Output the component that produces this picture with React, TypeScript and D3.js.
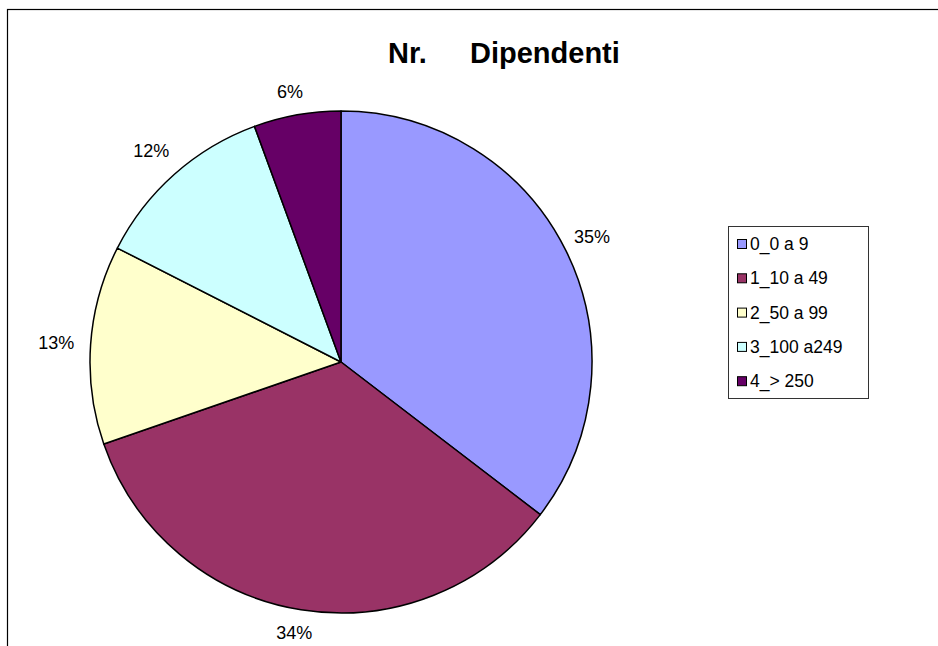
import React from "react";
import * as d3 from "d3";

const categories = ["0_0 a 9", "1_10 a 49", "2_50 a 99", "3_100 a249", "4_> 250"];
const values = [35.4, 34.3, 12.8, 11.9, 5.6];
const colors = ["#9999FF", "#993366", "#FFFFCC", "#CCFFFF", "#660066"];
const titleParts = ["Nr.", "Dipendenti"];

const W = 938;
const H = 646;
const cx = 341;
const cy = 362;
const R = 251;

export default function App() {
  const total = d3.sum(values);
  const pie = d3.pie<number>().sort(null).value((d) => d).startAngle(0).endAngle(2 * Math.PI);
  const arcs = pie(values);
  const arc = d3.arc<d3.PieArcDatum<number>>().innerRadius(0).outerRadius(R);
  const font = "'Liberation Sans', Arial, sans-serif";
  const labelSize = 18;

  return (
    <div style={{ position: "fixed", left: 0, top: 0, width: W, height: H, background: "#fff" }}>
      <svg width={W} height={H} style={{ display: "block" }}>
        <rect x={7.5} y={9.5} width={W + 10} height={H + 10} fill="#fff" stroke="#000" strokeWidth={1.2} />
        <text x={388} y={63} fontFamily={font} fontWeight="bold" fontSize={29} fill="#000">{titleParts[0]}</text>
        <text x={470} y={63} fontFamily={font} fontWeight="bold" fontSize={29} fill="#000">{titleParts[1]}</text>
        <g transform={`translate(${cx},${cy})`}>
          {arcs.map((a, i) => (
            <path key={i} d={arc(a) || ""} fill={colors[i]} stroke="#000" strokeWidth={1.5} strokeLinejoin="round" />
          ))}
          {arcs.map((a, i) => {
            const label = `${Math.round((values[i] / total) * 100)}%`;
            const mid = (a.startAngle + a.endAngle) / 2;
            const s = Math.sin(mid);
            const c = Math.cos(mid);
            const w = label.length * labelSize * 0.63;
            const h = 14;
            const d = R + 14 + Math.abs(s) * w / 2 + Math.abs(c) * h / 2;
            return (
              <text key={i} x={d * s - 3} y={-d * c} textAnchor="middle" dominantBaseline="central"
                fontFamily={font} fontSize={labelSize} fill="#000">
                {label}
              </text>
            );
          })}
        </g>
        <g>
          <rect x={728.5} y={226.5} width={140} height={172} fill="#fff" stroke="#333" strokeWidth={1} />
          {categories.map((c, i) => {
            const yy = 244 + i * 34.3;
            return (
              <g key={c}>
                <rect x={737.5} y={yy - 4.5} width={9} height={9} fill={colors[i]} stroke="#000" strokeWidth={1} />
                <text x={750} y={yy + 6} fontFamily={font} fontSize={17.5} fill="#000">{c}</text>
              </g>
            );
          })}
        </g>
      </svg>
    </div>
  );
}
